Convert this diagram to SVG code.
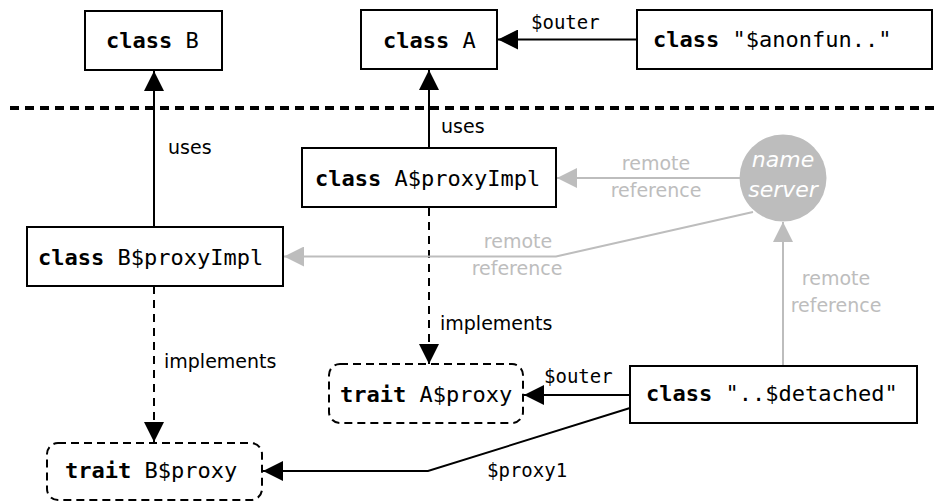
<svg xmlns="http://www.w3.org/2000/svg" width="937" height="501" viewBox="0 0 937 501">
  <style>
    .box { fill: #fff; stroke: #000; stroke-width: 2; }
    .trait { fill: #fff; stroke: #000; stroke-width: 2; stroke-dasharray: 8 5; }
    .code { font-family: "DejaVu Sans Mono", "Liberation Mono", monospace; font-size: 22px; fill: #000; }
    .code .kw { font-weight: bold; }
    .lbl { font-family: "DejaVu Sans", "Liberation Sans", sans-serif; font-size: 19px; fill: #000; }
    .mono { font-family: "DejaVu Sans Mono", "Liberation Mono", monospace; font-size: 19px; fill: #000; }
    .gray { fill: #bdbdbd; }
    .edge { fill: none; stroke: #000; stroke-width: 2; }
    .dash { stroke-dasharray: 8 6; }
    .remote { fill: none; stroke: #bdbdbd; stroke-width: 2; }
    .ns { font-family: "DejaVu Sans", "Liberation Sans", sans-serif; font-size: 22px; font-style: italic; fill: #fff; }
  </style>
  <defs>
    <marker id="arrow" viewBox="0 0 20 20" markerWidth="20" markerHeight="20" markerUnits="userSpaceOnUse" refX="20" refY="10" orient="auto">
      <path d="M0,0 L20,10 L0,20 z" fill="#000"/>
    </marker>
    <marker id="arrow-gray" viewBox="0 0 20 20" markerWidth="20" markerHeight="20" markerUnits="userSpaceOnUse" refX="20" refY="10" orient="auto">
      <path d="M0,0 L20,10 L0,20 z" fill="#bdbdbd"/>
    </marker>
  </defs>

  <!-- boundary between local and remote side -->
  <line x1="10" y1="108" x2="937" y2="108" stroke="#000" stroke-width="4" stroke-dasharray="9 6"/>

  <g id="connectors">
    <!-- uses -->
    <line class="edge" x1="154" y1="227" x2="154" y2="71" marker-end="url(#arrow)"/>
    <text class="lbl" x="168" y="154">uses</text>
    <line class="edge" x1="429" y1="148" x2="429" y2="70" marker-end="url(#arrow)"/>
    <text class="lbl" x="441" y="133">uses</text>

    <!-- $outer (anonfun -> A) -->
    <line class="edge" x1="637" y1="39.5" x2="498" y2="39.5" marker-end="url(#arrow)"/>
    <text class="mono" x="531" y="29">$outer</text>

    <!-- implements -->
    <line class="edge dash" x1="429" y1="208" x2="429" y2="364" marker-end="url(#arrow)"/>
    <text class="lbl" x="440" y="330">implements</text>
    <line class="edge dash" x1="154" y1="286" x2="154" y2="442" marker-end="url(#arrow)"/>
    <text class="lbl" x="164" y="368">implements</text>

    <!-- $outer (detached -> A$proxy) -->
    <line class="edge" x1="630" y1="395" x2="524" y2="395" marker-end="url(#arrow)"/>
    <text class="mono" x="544" y="383">$outer</text>

    <!-- $proxy1 (detached -> B$proxy) -->
    <polyline class="edge" points="630,408 428,471 263,471" marker-end="url(#arrow)"/>
    <text class="mono" x="487" y="477">$proxy1</text>

    <!-- remote references through the name server -->
    <line class="remote" x1="740" y1="178" x2="557" y2="178" marker-end="url(#arrow-gray)"/>
    <text class="lbl gray" x="656" y="170" text-anchor="middle">remote</text>
    <text class="lbl gray" x="656" y="197" text-anchor="middle">reference</text>

    <polyline class="remote" points="753,212 556,256.5 284,256.5" marker-end="url(#arrow-gray)"/>
    <text class="lbl gray" x="518" y="248" text-anchor="middle">remote</text>
    <text class="lbl gray" x="517" y="275" text-anchor="middle">reference</text>

    <line class="remote" x1="783" y1="366" x2="783" y2="222" marker-end="url(#arrow-gray)"/>
    <text class="lbl gray" x="836" y="285" text-anchor="middle">remote</text>
    <text class="lbl gray" x="836" y="312" text-anchor="middle">reference</text>
  </g>

  <g id="class-B">
    <rect class="box" x="85" y="11" width="137" height="59"/>
    <text class="code" x="106" y="48"><tspan class="kw">class</tspan> B</text>
  </g>

  <g id="class-A">
    <rect class="box" x="361" y="10" width="136" height="59"/>
    <text class="code" x="383" y="48"><tspan class="kw">class</tspan> A</text>
  </g>

  <g id="class-anonfun">
    <rect class="box" x="637" y="10" width="295" height="59"/>
    <text class="code" x="653" y="47"><tspan class="kw">class</tspan> "$anonfun.."</text>
  </g>

  <g id="class-A-proxyImpl">
    <rect class="box" x="302" y="148" width="254" height="59"/>
    <text class="code" x="315" y="186"><tspan class="kw">class</tspan> A$proxyImpl</text>
  </g>

  <g id="class-B-proxyImpl">
    <rect class="box" x="27" y="227" width="256" height="59"/>
    <text class="code" x="38" y="265"><tspan class="kw">class</tspan> B$proxyImpl</text>
  </g>

  <g id="name-server">
    <circle cx="783" cy="178" r="43.5" fill="#bdbdbd"/>
    <text class="ns" x="783" y="167" text-anchor="middle">name</text>
    <text class="ns" x="783" y="197" text-anchor="middle">server</text>
  </g>

  <g id="trait-A-proxy">
    <rect class="trait" x="329" y="364" width="194" height="59" rx="11" ry="11"/>
    <text class="code" x="340" y="402"><tspan class="kw">trait</tspan> A$proxy</text>
  </g>

  <g id="trait-B-proxy">
    <rect class="trait" x="47" y="443" width="215" height="57" rx="11" ry="11"/>
    <text class="code" x="65" y="478"><tspan class="kw">trait</tspan> B$proxy</text>
  </g>

  <g id="class-detached">
    <rect class="box" x="630" y="366" width="287" height="57"/>
    <text class="code" x="646" y="401"><tspan class="kw">class</tspan> "..$detached"</text>
  </g>
</svg>
